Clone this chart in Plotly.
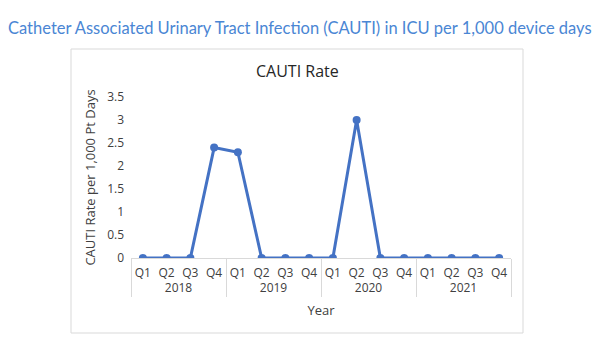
import plotly.graph_objects as go

years = ["2018"] * 4 + ["2019"] * 4 + ["2020"] * 4 + ["2021"] * 4
quarters = ["Q1", "Q2", "Q3", "Q4"] * 4
cauti_rate = [0, 0, 0, 2.4, 2.3, 0, 0, 0, 0, 3.0, 0, 0, 0, 0, 0, 0]
y_ticks = [0, 0.5, 1, 1.5, 2, 2.5, 3, 3.5]
y_ticktext = ["0", "0.5", "1", "1.5", "2", "2.5", "3", "3.5"]

W, H = 600, 358
D = 8  # page offset of the figure (body margin)
PL, PR, PT, PB = 131 - D, 511 - D, 97 - D, 258 - D  # plot area in figure px
PW, PH = PR - PL, PB - PT


def px(x):
    return (x - D - PL) / PW


def py(y):
    return (PB - (y - D)) / PH


fig = go.Figure()
fig.add_trace(go.Scatter(
    x=[years, quarters], y=cauti_rate, mode="lines+markers",
    line=dict(color="#4472C4", width=3),
    marker=dict(color="#4472C4", size=8),
    showlegend=False,
))

font = "Open Sans, Noto Sans, sans-serif"
fig.update_layout(
    width=W, height=H,
    margin=dict(l=PL, r=W - PR, t=PT, b=H - PB),
    paper_bgcolor="white", plot_bgcolor="white",
    font=dict(family=font, color="#404040", size=12),
    xaxis=dict(
        type="multicategory", automargin=False, tickangle=0, range=[-0.5, 15.5],
        showline=True, linecolor="#d9d9d9", linewidth=1, ticklabelstandoff=4,
        showgrid=False, zeroline=False, showdividers=True, dividercolor="#d9d9d9",
        dividerwidth=1, tickfont=dict(size=12, color="#404040"),
        title=dict(text="Year", font=dict(size=13, color="#404040"), standoff=10),
    ),
    yaxis=dict(
        automargin=False,
        range=[0, 3.5], tickvals=y_ticks, ticktext=y_ticktext, showgrid=False,
        zeroline=False, showline=False, ticks="", ticklabelstandoff=6,
        tickfont=dict(size=12, color="#404040"),
        title=dict(text="CAUTI Rate per 1,000 Pt Days", font=dict(size=13, color="#404040"), standoff=8),
    ),
    shapes=[dict(type="rect", xref="paper", yref="paper",
                 x0=px(71), x1=px(523), y0=py(333), y1=py(49),
                 line=dict(color="#d9d9d9", width=1), fillcolor="rgba(0,0,0,0)", layer="below")],
    annotations=[
        dict(text="CAUTI Rate", xref="paper", yref="paper",
             x=px(297), y=py(71), xanchor="center", yanchor="middle", showarrow=False,
             font=dict(size=16, color="#262626", family=font)),
        dict(text="Catheter Associated Urinary Tract Infection (CAUTI) in ICU per 1,000 device days",
             xref="paper", yref="paper", x=px(300), y=py(28), xanchor="center", yanchor="middle",
             showarrow=False, font=dict(size=16.5, color="#4a86d4", family="Lato, sans-serif")),
    ],
)
fig.write_html("out.html")
